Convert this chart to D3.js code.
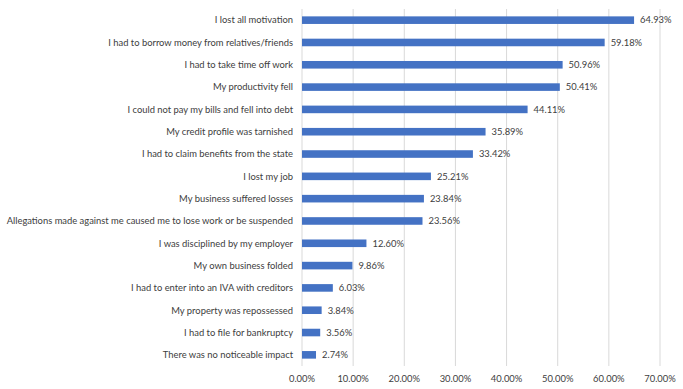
<!DOCTYPE html>
<html>
<head>
<meta charset="utf-8">
<script src="https://cdn.jsdelivr.net/npm/d3@7.9.0/dist/d3.min.js"></script>
<style>
  body { margin: 0; background: #fff; }
  svg { font-family: Lato, "Open Sans", sans-serif; }
</style>
</head>
<body>
<svg width="683" height="389"></svg>
<script>
const categories = [
  'I lost all motivation',
  'I had to borrow money from relatives/friends',
  'I had to take time off work',
  'My productivity fell',
  'I could not pay my bills and fell into debt',
  'My credit profile was tarnished',
  'I had to claim benefits from the state',
  'I lost my job',
  'My business suffered losses',
  'Allegations made against me caused me to lose work or be suspended',
  'I was disciplined by my employer',
  'My own business folded',
  'I had to enter into an IVA with creditors',
  'My property was repossessed',
  'I had to file for bankruptcy',
  'There was no noticeable impact'
];
const values = [64.93, 59.18, 50.96, 50.41, 44.11, 35.89, 33.42, 25.21, 23.84, 23.56, 12.60, 9.86, 6.03, 3.84, 3.56, 2.74];
const ticks = [0, 10, 20, 30, 40, 50, 60, 70];

const data = categories.map((c, i) => ({ label: c, value: values[i] }));

const margin = { top: 9, left: 302, right: 23, bottom: 23 };
const width = 683, height = 389;
const svg = d3.select('svg');

const x = d3.scaleLinear().domain([0, 70]).range([margin.left, width - margin.right]);
const y = d3.scaleBand()
  .domain(categories)
  .range([margin.top, height - margin.bottom])
  .paddingInner(0.66)
  .paddingOuter(0.33);

// gridlines
svg.append('g')
  .selectAll('line')
  .data(ticks)
  .join('line')
  .attr('x1', d => x(d)).attr('x2', d => x(d))
  .attr('y1', margin.top).attr('y2', height - margin.bottom)
  .attr('stroke', '#d9d9d9')
  .attr('stroke-width', 1);

// tick labels
svg.append('g')
  .selectAll('text')
  .data(ticks)
  .join('text')
  .attr('x', d => x(d))
  .attr('y', 382)
  .attr('text-anchor', 'middle')
  .attr('font-size', 9.4)
  .attr('fill', '#404040')
  .text(d => d.toFixed(2) + '%');

// bars
svg.append('g')
  .selectAll('rect')
  .data(data)
  .join('rect')
  .attr('x', x(0))
  .attr('y', d => y(d.label))
  .attr('width', d => x(d.value) - x(0))
  .attr('height', y.bandwidth())
  .attr('fill', '#4472c4');

// category labels
svg.append('g')
  .selectAll('text')
  .data(data)
  .join('text')
  .attr('x', 293)
  .attr('y', d => y(d.label) + y.bandwidth() / 2)
  .attr('dy', '0.35em')
  .attr('text-anchor', 'end')
  .attr('font-size', 9.4)
  .attr('fill', '#404040')
  .text(d => d.label);

// value labels
svg.append('g')
  .selectAll('text')
  .data(data)
  .join('text')
  .attr('x', d => x(d.value) + 6)
  .attr('y', d => y(d.label) + y.bandwidth() / 2)
  .attr('dy', '0.35em')
  .attr('font-size', 9.4)
  .attr('fill', '#404040')
  .text(d => d.value.toFixed(2) + '%');
</script>
</body>
</html>
